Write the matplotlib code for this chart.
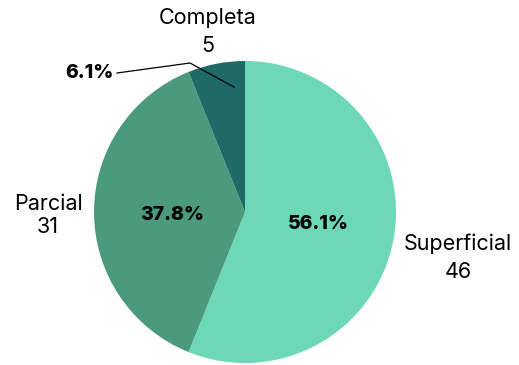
import numpy as np
import matplotlib.pyplot as plt

categories = ["Superficial", "Parcial", "Completa"]
counts = [46, 31, 5]
colors = ["#6dd8b8", "#4b9a7e", "#1f6a68"]

plt.rcParams['font.family'] = ['Inter', 'DejaVu Sans']

W, H = 519, 365
fig = plt.figure(figsize=(W / 100, H / 100), dpi=100)
ax = fig.add_axes([0, 0, 1, 1])

cx, cy, r = 245, 153, 151
wedges, _ = ax.pie(counts, colors=colors, startangle=90, counterclock=False,
                   center=(cx, cy), radius=r, frame=True,
                   wedgeprops=dict(linewidth=0))
ax.set_xlim(0, W)
ax.set_ylim(0, H)
ax.set_aspect('equal')
ax.axis('off')

total = sum(counts)
pcts = [100 * c / total for c in counts]
pct_size = 14
lab_size = 15.5

# percentage labels inside the two large slices
ax.text(318, H - 224, f"{pcts[0]:.1f}%", ha='center', va='center',
        fontsize=pct_size, fontweight='heavy')
ax.text(172, H - 215, f"{pcts[1]:.1f}%", ha='center', va='center',
        fontsize=pct_size, fontweight='heavy')

# small slice gets an outside label with a leader line
w = wedges[2]
ang = np.deg2rad((w.theta1 + w.theta2) / 2 - 6)
tip = (cx + 0.83 * r * np.cos(ang), cy + 0.83 * r * np.sin(ang))
elbow = (190, H - 63)
ax.plot([117, elbow[0], tip[0]], [H - 73, elbow[1], tip[1]],
        color='black', lw=0.9)
ax.text(89, H - 73, f"{pcts[2]:.1f}%", ha='center', va='center',
        fontsize=pct_size, fontweight='heavy')

# category names with counts
ax.text(208, H - 18, categories[2], ha='center', va='center', fontsize=lab_size)
ax.text(208, H - 46, str(counts[2]), ha='center', va='center', fontsize=lab_size)
ax.text(48, H - 204, categories[1], ha='center', va='center', fontsize=lab_size)
ax.text(48, H - 227, str(counts[1]), ha='center', va='center', fontsize=lab_size)
ax.text(458, H - 244, categories[0], ha='center', va='center', fontsize=lab_size)
ax.text(458, H - 272, str(counts[0]), ha='center', va='center', fontsize=lab_size)

fig.savefig("out.png", dpi=100)
